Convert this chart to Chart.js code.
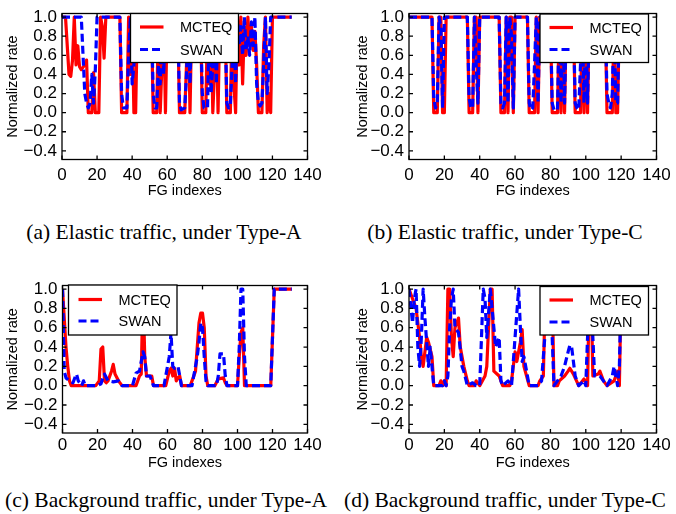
<!DOCTYPE html>
<html>
<head>
<meta charset="utf-8">
<script src="https://cdn.jsdelivr.net/npm/chart.js@4.4.1/dist/chart.umd.min.js"></script>
<style>
  body { margin: 0; background: #fff; width: 676px; height: 514px; overflow: hidden; position: relative; }
  .panel { position: absolute; width: 340px; height: 200px; }
  .cap { position: absolute; width: 400px; text-align: center; white-space: nowrap;
         font-family: "Liberation Serif", "Times New Roman", serif; font-size: 21.5px; line-height: 22px; color: #000; }
</style>
</head>
<body>
<div class="panel" style="left:0;top:0"><canvas id="chartA"></canvas></div>
<div class="panel" style="left:338px;top:0"><canvas id="chartB"></canvas></div>
<div class="panel" style="left:0;top:272px"><canvas id="chartC"></canvas></div>
<div class="panel" style="left:338px;top:272px"><canvas id="chartD"></canvas></div>
<div class="cap" style="left:-36px;top:221px">(a) Elastic traffic, under Type-A</div>
<div class="cap" style="left:305px;top:221px">(b) Elastic traffic, under Type-C</div>
<div class="cap" style="left:-34px;top:489px">(c) Background traffic, under Type-A</div>
<div class="cap" style="left:305px;top:489px">(d) Background traffic, under Type-C</div>
<script>
// Ejes comunes
const xTicks = [0, 20, 40, 60, 80, 100, 120, 140];
const yTicks = [-0.4, -0.2, 0.0, 0.2, 0.4, 0.6, 0.8, 1.0];
const seriesNames = ['MCTEQ', 'SWAN'];

// (a) Elastic traffic, Type-A
const elasticA_mcteqX = [0,2,4,5,6,7,8,9,10,11, 13,14,15,17,18,19,21,22,23,24, 25,33,34,37,38,39,40,41,42,43, 51,52,54,55,56,57,58,59,60,66, 67,70,71,72,73,74,79,80,82,83, 84,85,86,88,89,90,93,94,96,97, 98,99,100,101,102,103,104,105,106,107, 108,109,110,111,112,114,115,116,117,118, 119,120,131];
const elasticA_mcteqY = [1,1,0.4,0.38,0.55,1,0.5,0.7,0.48,0.45, 0.5,0.55,0,0,0.42,0,0,1,0.9,0.57, 1,1,0,0,1,0.4,1,0,0,1, 1,0,0,1,0,0.5,1,0,1,1, 0,0,0.5,1,0,1,1,0,0,1, 0.3,1,0,0.9,0,1,1,0,0,1, 0.3,0,1,0.5,1,0.3,0.9,0.6,1,0.7, 0.9,0.65,0.85,0.5,0,0,0.7,1,0,0.2, 0,1,1];
const elasticA_swanX = [0,11,13,14,15,16,17,18,19,20, 33,34,35,37,38,39,40,41,42,51, 52,53,54,55,56,57,58,59,66,67, 68,70,71,72,73,74,79,80,81,83, 84,85,86,87,88,89,93,94,95,96, 97,98,99,100,101,102,103,104,105,106, 107,108,109,110,111,112,113,114,115,116, 117,118,119,131];
const elasticA_swanY = [1,1,0.2,0.1,0.05,0.1,0.4,0.1,0.45,1, 1,0.2,0.05,0.05,0.6,1,0.3,0.5,1,1, 0.2,0.05,0.05,0.5,0.3,1,0.4,1,1,0.1, 0.03,0.05,0.4,1,0.3,1,1,0.2,0.05,0.05, 1,0.2,0.5,1,0.3,1,1,0.1,0.05,0.07, 0.5,1,0.3,1,0.7,0.9,0.6,1,0.65,0.8, 0.6,0.95,0.7,1,0.3,0.1,0.07,0.1,0.5,1, 0.2,0.5,1,1];

// (b) Elastic traffic, Type-C
const elasticC_mcteqX = [0,13,14,16,17,18,19,20,21,33, 34,36,37,38,39,40,51,52,54,55, 56,57,58,59,60,67,68,71,72,73, 74,80,81,84,85,86,87,88,89,93, 94,97,98,99,100,101,102,111,112,115, 116,117,118,119,131];
const elasticC_mcteqY = [1,1,0,0,1,1,0,0,1,1, 0,0,1,1,0,1,1,0,0,1, 0,1,1,0,1,1,0,0,1,0, 1,1,0,0,1,0,1,0,1,1, 0,0,1,0,1,0,1,1,0,0, 1,0,0,1,1];
const elasticC_swanX = [0,13,14,15,16,17,18,19,20,33, 34,35,36,37,38,39,40,51,52,53, 54,55,56,57,58,59,60,67,68,69, 70,71,72,73,74,80,81,82,84,85, 86,87,88,89,93,94,95,96,97,98, 99,100,101,102,111,112,113,114,115,116, 117,118,119,131];
const elasticC_swanY = [1,1,0.15,0.05,0.1,1,0.9,0.05,1,1, 0.15,0.05,0.05,1,0.5,0.1,1,1,0.1,0.05, 0.1,1,0.1,1,0.8,0.05,1,1,0.1,0.03, 0.05,0.5,1,0.1,1,1,0.1,0.03,0.03,1, 0.1,1,0.1,1,1,0.1,0.05,0.03,0.5,1, 0.1,1,0.1,1,1,0.2,0.1,0.05,0.2,1, 0.1,0.1,1,1];

// (c) Background traffic, Type-A
const backA_mcteqX = [0,1,2,3,4,5, 19,21,22,23,24,25,26,28,29,30,32,34, 42,44,45,46,47,48,50,51,52, 59,61,62,63,64,65,66,67,68, 73,76,77,78,79,80,81,82,83, 87,89,92,93,94, 100,101,102,103,104, 119,121,131];
const backA_mcteqY = [1,0.7,0.4,0.2,0.05,0, 0,0.05,0.38,0.4,0.05,0.03,0.05,0.15,0.22,0.12,0.05,0, 0,0.1,0.12,1.0,0.3,0.1,0.1,0.1,0, 0,0.15,0.18,0.1,0.18,0.05,0.08,0.1,0, 0,0.15,0.4,0.65,0.75,0.75,0.6,0.1,0, 0,0.07,0.08,0.03,0, 0,0.3,0.55,0.6,0, 0,1,1];
const backA_swanX = [0,1,2,4,6,7,8,9,11,12,13, 20,22,23,24,26,29,32,34, 40,42,44,45,46,47,48,50,51,52, 58,60,61,62,63,64,66,67,68, 74,76,77,78,79,80,81,82,83, 88,89,90,92,93,94, 100,101,102,103,104,105, 119,121,131];
const backA_swanY = [1,0.15,0.08,0.05,0.03,0.08,0.12,0.05,0,0.05,0, 0,0.02,0.08,0.12,0.05,0.04,0.05,0, 0,0.13,0.15,0.25,0.35,0.3,0.1,0.1,0.05,0, 0,0.2,0.3,0.55,0.2,0.18,0.2,0.1,0, 0,0.2,0.3,0.45,0.65,0.6,0.3,0.05,0, 0,0.1,0.33,0.33,0.1,0, 0,0.4,1,1,0.3,0, 0,1,1];

// (d) Background traffic, Type-C
const backC_mcteqX = [0,2,4,6,7,8,10,11,13,14, 17,18,19,20,21,22,23,24,25,26, 28,29,31,33,34,37,38,40,43,44, 46,47,48,51,52,53,57,58,60,61, 63,64,65,68,73,74,76,77,79,81, 82,84,85,88,90,91,93,96,99,101, 102,103,104,107,108,110,112,116,118,119, 120,131];
const backC_mcteqY = [1,0.9,0.8,0.5,0.3,0.2,0.5,0.45,0.3,0, 0,0.05,0,0.05,0,1,1,0.5,0.3,0.6, 0.7,0.4,0.2,0.05,0,0,0.05,0,0.1,0.2, 1,1,0.15,0.1,0.05,0,0,0.05,0.35,0.25, 0.45,0.58,0.2,0,0,0.05,0.1,0.9,1,1, 0,0,0.05,0.1,0.15,0.18,0.12,0,0.07,0, 1,1,0.1,0.12,0.15,0.05,0,0.05,0.15,0, 1,1];
const backC_swanX = [0,2,3,4,5,6,7,8,9,11, 12,14,19,20,21,22,23,24,25,26, 28,30,31,33,36,38,40,41,42,43, 44,46,47,49,51,52,53,56,58,60, 62,63,64,65,68,73,75,77,78,79, 80,82,84,86,88,90,91,92,94,96, 99,100,101,102,103,105,108,110,112,115, 116,117,118,119,120,131];
const backC_swanY = [1,0.65,0.9,1,0.4,0.2,0.5,1,0.7,0.2, 0.4,0,0,0.05,0,0.1,0.6,0.9,1,0.6, 0.55,0.2,0.15,0,0.03,0,0,0.5,1,0.9, 0.5,1,0.8,0.4,0.5,0.05,0,0.05,0,0.5, 1,0.6,0.25,0.3,0,0,0.05,0.55,0.8,1, 1,0,0.05,0.1,0.2,0.35,0.42,0.4,0.1,0, 0.05,0,0.5,1,0.9,0.1,0.1,0.05,0,0.1, 0.2,0.1,0,0.2,1,1];

Chart.defaults.font.family = '"Liberation Sans", Arial, Helvetica, sans-serif';
Chart.defaults.color = '#000';

const toPoints = (xs, ys) => xs.map((x, i) => ({ x: x, y: ys[i] }));

// Marco negro con marcas hacia dentro (estilo matplotlib)
const framePlugin = {
  id: 'frame',
  afterDraw(chart) {
    const { ctx, chartArea: a, scales } = chart;
    ctx.save();
    ctx.strokeStyle = '#000';
    ctx.lineWidth = 1.3;
    ctx.strokeRect(a.left, a.top, a.right - a.left, a.bottom - a.top);
    ctx.beginPath();
    xTicks.forEach(v => {
      const px = scales.x.getPixelForValue(v);
      ctx.moveTo(px, a.bottom); ctx.lineTo(px, a.bottom - 4);
      ctx.moveTo(px, a.top); ctx.lineTo(px, a.top + 4);
    });
    yTicks.forEach(v => {
      const py = scales.y.getPixelForValue(v);
      ctx.moveTo(a.left, py); ctx.lineTo(a.left + 4, py);
      ctx.moveTo(a.right, py); ctx.lineTo(a.right - 4, py);
    });
    ctx.stroke();
    ctx.restore();
  }
};

// Leyenda con caja, dibujada dentro del gráfico
const boxLegendPlugin = {
  id: 'boxLegend',
  afterDraw(chart, args, opts) {
    const { ctx } = chart;
    ctx.save();
    ctx.fillStyle = '#fff';
    ctx.fillRect(opts.x, opts.y, opts.w, opts.h);
    ctx.strokeStyle = '#000';
    ctx.lineWidth = 1.3;
    ctx.strokeRect(opts.x, opts.y, opts.w, opts.h);
    chart.data.datasets.forEach((ds, i) => {
      const yy = opts.rows[i];
      ctx.beginPath();
      ctx.strokeStyle = ds.borderColor;
      ctx.lineWidth = ds.borderWidth;
      ctx.setLineDash(ds.borderDash || []);
      ctx.moveTo(opts.sampleX, yy);
      ctx.lineTo(opts.sampleX + opts.sampleW, yy);
      ctx.stroke();
      ctx.setLineDash([]);
      ctx.fillStyle = '#000';
      ctx.font = '14.5px "Liberation Sans", Arial, sans-serif';
      ctx.textBaseline = 'middle';
      ctx.textAlign = 'left';
      ctx.fillText(ds.label, opts.textX, yy + 1);
    });
    ctx.restore();
  }
};

function buildChart(id, redX, redY, blueX, blueY, cfg) {
  return new Chart(document.getElementById(id), {
    type: 'line',
    data: {
      datasets: [
        // SWAN se dibuja encima de MCTEQ (order menor = encima)
        { label: seriesNames[0], data: toPoints(redX, redY), borderColor: '#ff0000', borderWidth: 3.2, order: 2,
          pointRadius: 0, fill: false, tension: 0, borderJoinStyle: 'round' },
        { label: seriesNames[1], data: toPoints(blueX, blueY), borderColor: '#0000ff', borderWidth: 3.2, order: 1,
          borderDash: [8, 4], pointRadius: 0, fill: false, tension: 0, borderJoinStyle: 'round' }
      ]
    },
    options: {
      responsive: true,
      maintainAspectRatio: false,
      animation: false,
      layout: { padding: { top: cfg.top, right: cfg.right, left: 0, bottom: 0 } },
      plugins: {
        legend: { display: false },
        tooltip: { enabled: false },
        boxLegend: cfg.legend
      },
      scales: {
        x: {
          type: 'linear', min: 0, max: 140,
          afterBuildTicks: s => { s.ticks = xTicks.map(v => ({ value: v })); },
          afterFit: s => { s.height = cfg.xh; },
          grid: { display: false, drawTicks: false },
          border: { display: false },
          ticks: { font: { size: 17 }, padding: cfg.xpad, maxRotation: 0, autoSkip: false },
          title: { display: true, text: 'FG indexes', font: { size: 14.5 }, padding: 0 }
        },
        y: {
          type: 'linear', min: -0.49, max: 1.037,
          afterBuildTicks: s => { s.ticks = yTicks.map(v => ({ value: v })); },
          afterFit: s => { s.width = cfg.yw; },
          grid: { display: false, drawTicks: false },
          border: { display: false },
          ticks: { font: { size: 17, lineHeight: 1 }, padding: 5,
                   callback: v => v.toFixed(1).replace('-', '\u2212') },
          title: { display: true, text: 'Normalized rate', font: { size: 14.5 }, padding: { top: cfg.ytp, bottom: 0 } }
        }
      }
    },
    plugins: [framePlugin, boxLegendPlugin]
  });
}

buildChart('chartA', elasticA_mcteqX, elasticA_mcteqY, elasticA_swanX, elasticA_swanY, {
  top: 8, right: 32.5, yw: 62, xh: 40.5, xpad: 5.5, ytp: 4,
  legend: { x: 130.5, y: 13.5, w: 108, h: 49, rows: [27, 49.5], sampleX: 140, sampleW: 23.5, textX: 180 }
});
buildChart('chartB', elasticC_mcteqX, elasticC_mcteqY, elasticC_swanX, elasticC_swanY, {
  top: 8, right: 21.5, yw: 71, xh: 40.5, xpad: 5.5, ytp: 16,
  legend: { x: 202, y: 14, w: 108.5, h: 48.5, rows: [27.5, 49.5], sampleX: 211.5, sampleW: 23.5, textX: 251.5 }
});
buildChart('chartC', backA_mcteqX, backA_mcteqY, backA_swanX, backA_swanY, {
  top: 8.5, right: 32.5, yw: 62.5, xh: 39, xpad: 2, ytp: 4,
  legend: { x: 68.5, y: 13, w: 108.5, h: 50, rows: [27.5, 49], sampleX: 78.5, sampleW: 23.5, textX: 118.5 }
});
buildChart('chartD', backC_mcteqX, backC_mcteqY, backC_swanX, backC_swanY, {
  top: 8.5, right: 21.5, yw: 71, xh: 39, xpad: 2, ytp: 16,
  legend: { x: 202, y: 14.5, w: 108.5, h: 48.5, rows: [28, 50], sampleX: 211.5, sampleW: 23.5, textX: 251.5 }
});
</script>
</body>
</html>
